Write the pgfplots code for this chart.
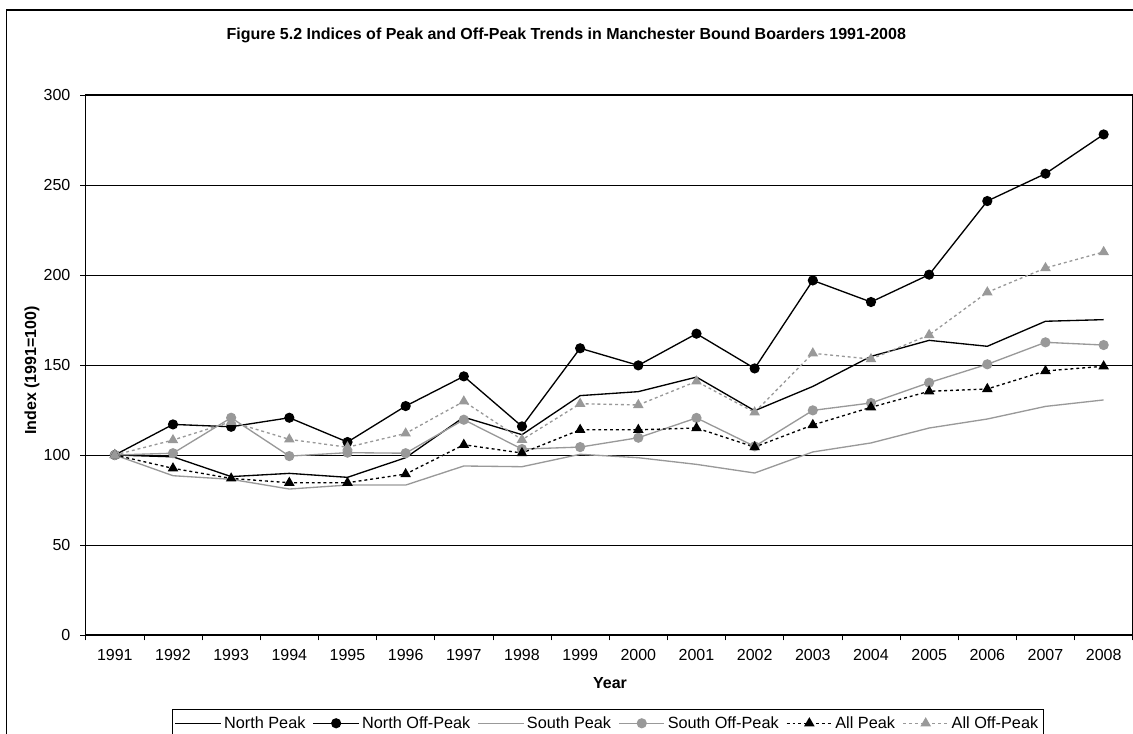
\documentclass[border=0pt]{standalone}
\usepackage{fontspec}
\setmainfont{Liberation Sans}
\usepackage{pgfplots}
\pgfplotsset{compat=1.18}
\definecolor{sgray}{RGB}{153,153,153}
\begin{document}
\begin{tikzpicture}
\clip (0,0) rectangle (849.75pt,-549.75pt);
\draw[line width=0.8pt] (5pt,-7.5pt) rectangle (880pt,-580pt);
\begin{axis}[
  at={(64.3pt,-476.25pt)}, anchor=south west,
  scale only axis, width=785.25pt, height=405pt,
  xmin=-0.5, xmax=17.5, ymin=0, ymax=300,
  xtick={-0.5,0.5,...,17.5},
  x tick label as interval,
  xticklabels={1991,1992,1993,1994,1995,1996,1997,1998,1999,2000,2001,2002,2003,2004,2005,2006,2007,2008},
  ytick={0,50,...,300},
  xtick pos=bottom, ytick pos=left,
  ymajorgrids,
  grid style={black, line width=0.6pt},
  axis line style={black, line width=0.8pt},
  tick align=outside, major tick length=4pt,
  tick style={black, line width=0.6pt},
  /pgf/number format/assume math mode=true,
  tick label style={font=\fontsize{12}{14}\selectfont},
  yticklabel style={xshift=-4pt},
  xticklabel style={yshift=-3pt},
  every axis title shift=0pt,
  title={Figure 5.2 Indices of Peak and Off-Peak Trends in Manchester Bound Boarders 1991-2008},
  title style={at={(axis description cs:0.459,1.111)}, anchor=center, font=\bfseries\fontsize{12}{14}\selectfont},
  xlabel={Year},
  xlabel style={at={(axis description cs:0.5008,-0.0889)}, anchor=center, font=\bfseries\fontsize{12}{14}\selectfont},
  ylabel={Index (1991=100)},
  ylabel style={at={(axis description cs:-0.0513,0.49)}, anchor=center, font=\bfseries\fontsize{12}{14}\selectfont},
  legend columns=6,
  legend style={at={(axis description cs:0.0821,-0.1376)}, anchor=north west, draw=black, line width=0.6pt,
    font=\fontsize{12.2}{14}\selectfont, inner ysep=3pt, inner xsep=2pt,
    /tikz/every even column/.append style={column sep=3.5pt}},
  legend image code/.code={\draw[mark repeat=2,mark phase=2,#1] plot coordinates {(0pt,0pt)(17pt,0pt)(34pt,0pt)};},
]
\addplot[black, line width=1pt, mark=none] coordinates {
(0,100)(1,99)(2,88)(3,89.8)(4,87.6)(5,98.5)(6,121)(7,111.3)(8,133)(9,135.2)(10,143.3)(11,124.6)(12,138.1)(13,154.8)(14,163.7)(15,160.4)(16,174.3)(17,175.2)};
\addlegendentry{North Peak}
\addplot[black, line width=1pt, mark=*, mark size=3.3pt, mark options={fill=black}] coordinates {
(0,100)(1,117)(2,115.7)(3,120.7)(4,107.2)(5,127.2)(6,143.7)(7,115.9)(8,159.3)(9,149.8)(10,167.4)(11,148.1)(12,197)(13,185)(14,200.2)(15,241.1)(16,256.3)(17,278.1)};
\addlegendentry{North Off-Peak}
\addplot[sgray, line width=1pt, mark=none] coordinates {
(0,100)(1,88.5)(2,86.5)(3,81.1)(4,83.3)(5,83.3)(6,93.9)(7,93.5)(8,100.4)(9,98.5)(10,94.8)(11,90)(12,101.7)(13,106.7)(14,115)(15,120)(16,127)(17,130.6)};
\addlegendentry{South Peak}
\addplot[sgray, line width=1pt, mark=*, mark size=3.3pt, mark options={fill=sgray}] coordinates {
(0,100)(1,101)(2,120.7)(3,99.4)(4,101.3)(5,101)(6,119.6)(7,103.3)(8,104.4)(9,109.6)(10,120.6)(11,104.8)(12,124.8)(13,128.9)(14,140.2)(15,150.4)(16,162.6)(17,161.1)};
\addlegendentry{South Off-Peak}
\addplot[black, line width=1pt, dash pattern=on 2.2pt off 2.2pt, mark=triangle*, mark size=3.6pt, mark options={solid, fill=black}] coordinates {
(0,100)(1,92.6)(2,87)(3,84.6)(4,84.6)(5,89.4)(6,105.7)(7,101.1)(8,114)(9,114)(10,115)(11,104.4)(12,116.7)(13,126.5)(14,135.4)(15,136.7)(16,146.7)(17,149.3)};
\addlegendentry{All Peak}
\addplot[sgray, line width=1pt, dash pattern=on 2.2pt off 2.2pt, mark=triangle*, mark size=3.6pt, mark options={solid, fill=sgray}] coordinates {
(0,100)(1,108.3)(2,118.5)(3,108.7)(4,104.3)(5,112)(6,129.8)(7,108.5)(8,128.5)(9,127.8)(10,140.9)(11,123.7)(12,156.5)(13,153.3)(14,166.7)(15,190.4)(16,203.9)(17,212.8)};
\addlegendentry{All Off-Peak}
\end{axis}
\end{tikzpicture}
\end{document}
